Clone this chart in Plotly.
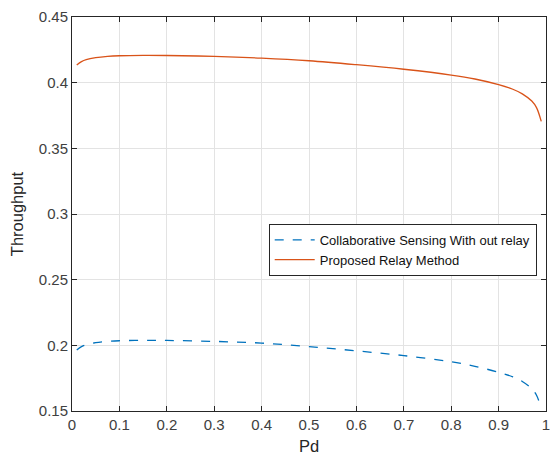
import plotly.graph_objects as go

pd_vals = [0.01, 0.02, 0.03, 0.05, 0.075, 0.1, 0.15, 0.2, 0.3, 0.4, 0.5, 0.6, 0.7, 0.8, 0.85, 0.9, 0.93, 0.95, 0.97, 0.98, 0.99]
collab = [0.1965, 0.1990, 0.2005, 0.2020, 0.2030, 0.2035, 0.2038, 0.2037, 0.2030, 0.2017, 0.1990, 0.1958, 0.1922, 0.1875, 0.1840, 0.1795, 0.1760, 0.1725, 0.1670, 0.1620, 0.1520]
relay = [0.4135, 0.4160, 0.4175, 0.4190, 0.4200, 0.4205, 0.4208, 0.4207, 0.4200, 0.4187, 0.4167, 0.4137, 0.4102, 0.4058, 0.4028, 0.3985, 0.3950, 0.3915, 0.3860, 0.3810, 0.3705]
x_ticks = [0, 0.1, 0.2, 0.3, 0.4, 0.5, 0.6, 0.7, 0.8, 0.9, 1]
x_labels = ["0", "0.1", "0.2", "0.3", "0.4", "0.5", "0.6", "0.7", "0.8", "0.9", "1"]
y_ticks = [0.15, 0.2, 0.25, 0.3, 0.35, 0.4, 0.45]
y_labels = ["0.15", "0.2", "0.25", "0.3", "0.35", "0.4", "0.45"]

fig = go.Figure()
fig.add_trace(go.Scatter(x=pd_vals, y=collab, mode="lines", line=dict(color="#0072BD", width=1.3, dash="dash", shape="spline"),
                         name="Collaborative Sensing With out relay"))
fig.add_trace(go.Scatter(x=pd_vals, y=relay, mode="lines", line=dict(color="#D95319", width=1.3, shape="spline"),
                         name="Proposed Relay Method"))

axis_common = dict(showline=True, linecolor="#262626", linewidth=1, mirror="ticks", ticks="inside", ticklen=5,
                   tickcolor="#262626", showgrid=True, gridcolor="#e3e3e3", gridwidth=1, zeroline=False,
                   tickfont=dict(family="Arial", size=15, color="#404040"))
fig.update_xaxes(range=[0, 1], tickvals=x_ticks, ticktext=x_labels,
                 title=dict(text="Pd", font=dict(family="Arial", size=16.5, color="#262626"), standoff=8), **axis_common)
fig.update_yaxes(range=[0.15, 0.45], tickvals=y_ticks, ticktext=y_labels,
                 title=dict(text="Throughput", font=dict(family="Arial", size=16.5, color="#262626"), standoff=11), **axis_common)

fig.update_layout(
    width=558, height=463,
    margin=dict(l=72, r=8, t=13, b=52),
    paper_bgcolor="white", plot_bgcolor="white",
    showlegend=True,
    legend=dict(x=0.415, y=0.475, xanchor="left", yanchor="top", bgcolor="white", bordercolor="#262626", borderwidth=1,
                font=dict(family="Arial", size=13, color="#111"), tracegroupgap=0, itemwidth=40),
)
fig.write_html("out.html")
